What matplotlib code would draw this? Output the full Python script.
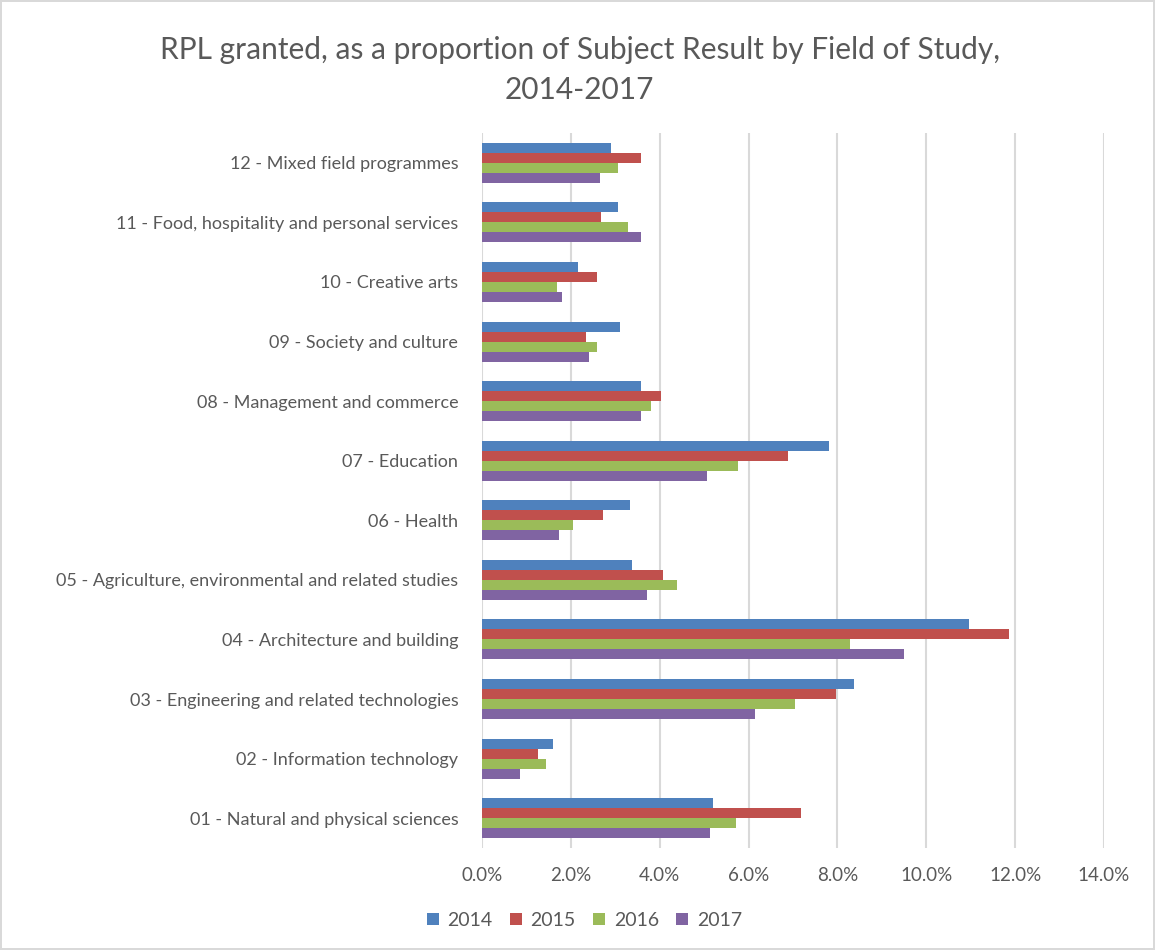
import matplotlib.pyplot as plt
import numpy as np
from matplotlib.ticker import FuncFormatter

plt.rcParams['font.family'] = ['Lato', 'DejaVu Sans']

categories = [
    "01 - Natural and physical sciences",
    "02 - Information technology",
    "03 - Engineering and related technologies",
    "04 - Architecture and building",
    "05 - Agriculture, environmental and related studies",
    "06 - Health",
    "07 - Education",
    "08 - Management and commerce",
    "09 - Society and culture",
    "10 - Creative arts",
    "11 - Food, hospitality and personal services",
    "12 - Mixed field programmes",
]

years = ["2014", "2015", "2016", "2017"]

# values in percent, categories 01..12
v2014 = [5.21, 1.60, 8.37, 10.97, 3.38, 3.34, 7.82, 3.59, 3.11, 2.17, 3.06, 2.91]
v2015 = [7.17, 1.26, 7.97, 11.86, 4.07, 2.73, 6.88, 4.02, 2.35, 2.60, 2.68, 3.59]
v2016 = [5.72, 1.45, 7.05, 8.29, 4.38, 2.04, 5.76, 3.80, 2.60, 1.68, 3.29, 3.06]
v2017 = [5.14, 0.86, 6.14, 9.50, 3.72, 1.74, 5.07, 3.59, 2.41, 1.80, 3.59, 2.65]

series = [v2014, v2015, v2016, v2017]
colors = ["#4F81BD", "#C0504D", "#9BBB59", "#8064A2"]

fig = plt.figure(figsize=(11.55, 9.5), dpi=100)
fig.patch.set_edgecolor("#D9D9D9")
fig.patch.set_linewidth(1.5)
ax = fig.add_axes([0.4173, 0.1074, 0.5385, 0.7526])

y = np.arange(len(categories))
h = 0.168
for i, (vals, c, yr) in enumerate(zip(series, colors, years)):
    ax.barh(y + (1.5 - i) * h, vals, height=h, color=c, label=yr, zorder=3)

ax.set_xlim(0, 14)
ax.set_ylim(-0.5, len(categories) - 0.5)
ax.set_xticks(np.arange(0, 15, 2))
ax.xaxis.set_major_formatter(FuncFormatter(lambda v, p: f"{v:.1f}%"))
ax.set_yticks(y)
ax.set_yticklabels(categories)
ax.grid(axis="x", color="#D9D9D9", linewidth=1.5, zorder=0)
for s in ax.spines.values():
    s.set_visible(False)
ax.tick_params(axis="both", length=0, colors="#595959")
ax.tick_params(axis="y", pad=17, labelsize=13)
ax.tick_params(axis="x", pad=14, labelsize=13.5)

fig.suptitle("RPL granted, as a proportion of Subject Result by Field of Study,\n2014-2017",
             x=0.502, y=0.962, fontsize=21.5, color="#595959", linespacing=1.5)

fig.legend(loc="center", bbox_to_anchor=(0.506, 0.031), ncol=4, frameon=False,
           fontsize=14, labelcolor="#595959", handlelength=0.6, handleheight=0.6,
           handletextpad=0.45, columnspacing=0.9)

fig.savefig("out.png", dpi=100)
